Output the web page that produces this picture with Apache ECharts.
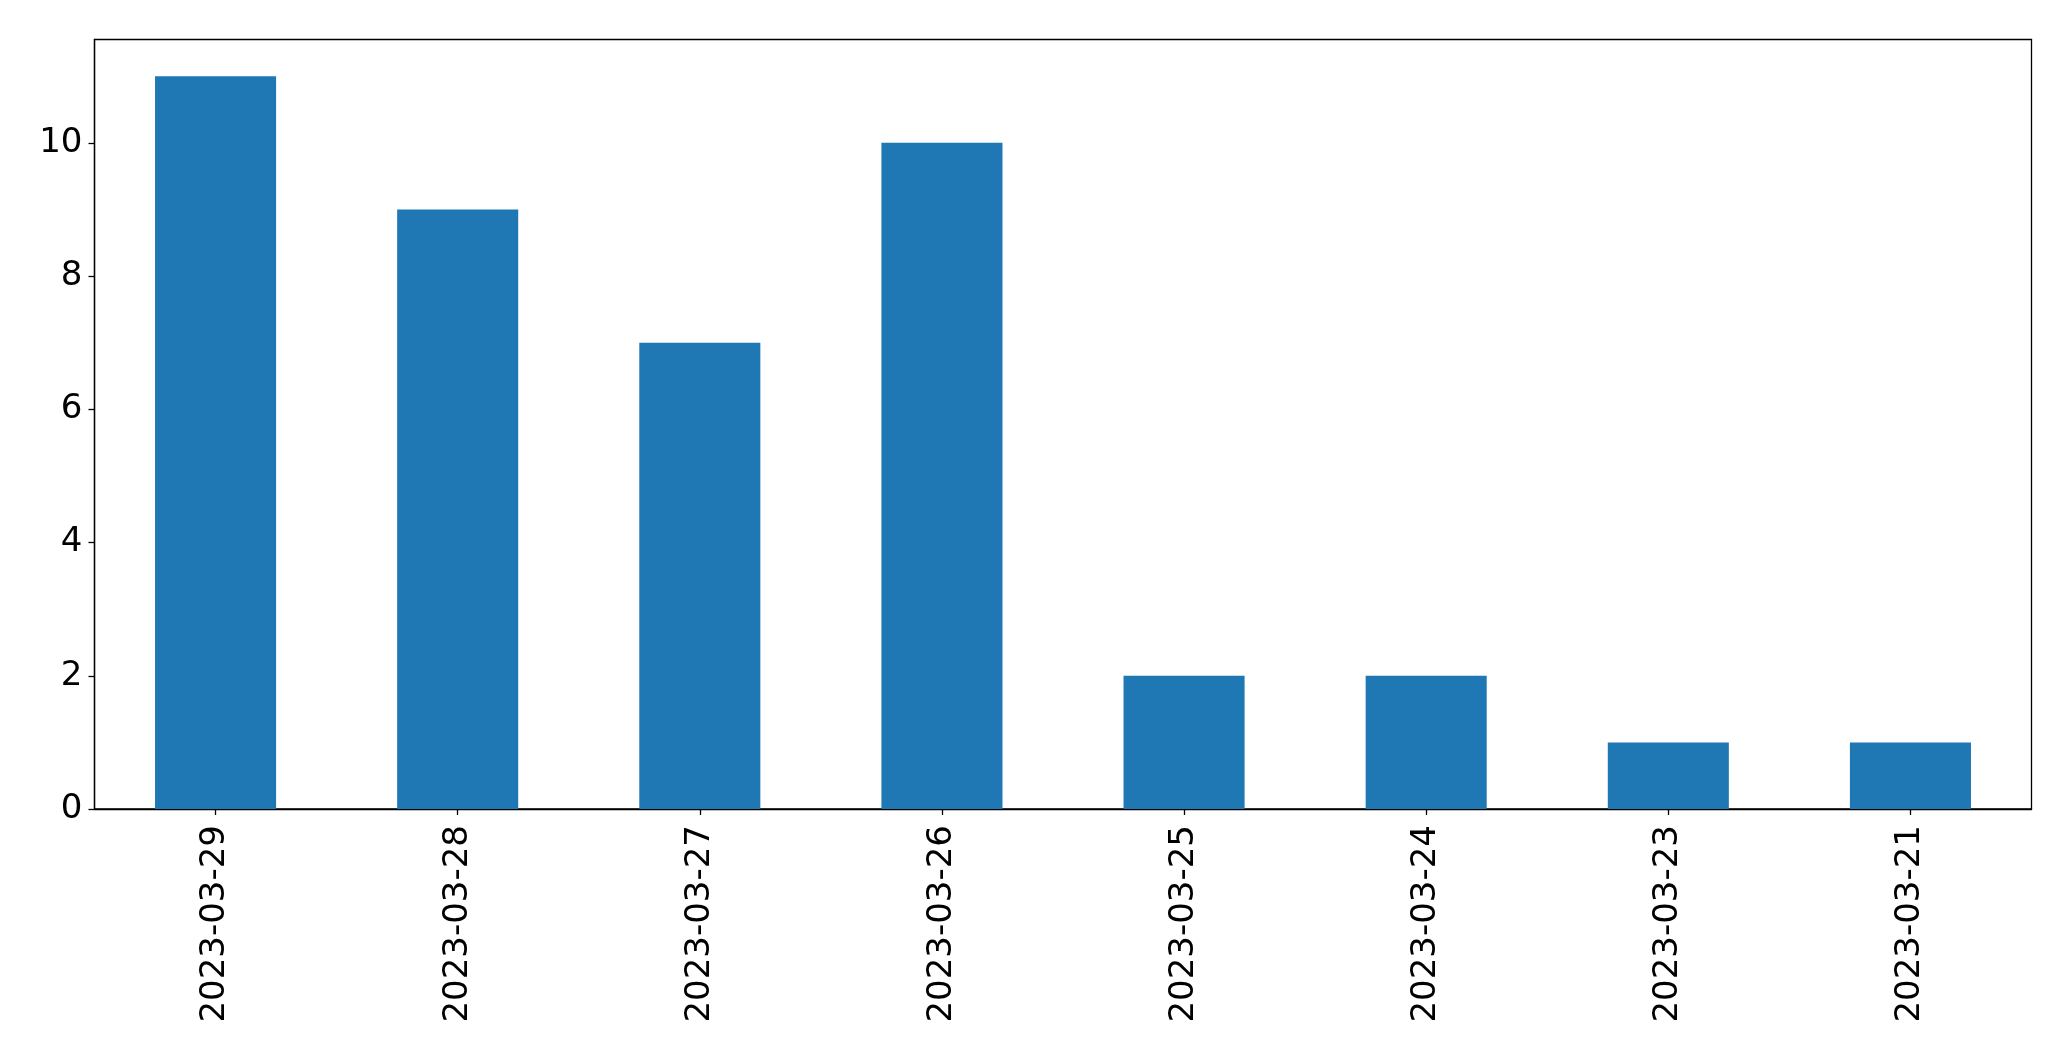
<!DOCTYPE html>
<html>
<head>
<meta charset="utf-8">
<script src="https://cdn.jsdelivr.net/npm/echarts@6/dist/echarts.min.js"></script>
<style>
html,body{margin:0;padding:0;background:#fff;}
#chart{width:2071px;height:1061px;}
</style>
</head>
<body>
<div id="chart"></div>
<script>
const categories = ["2023-03-29","2023-03-28","2023-03-27","2023-03-26","2023-03-25","2023-03-24","2023-03-23","2023-03-21"];
const values = [11, 9, 7, 10, 2, 2, 1, 1];
const yTicks = [0, 2, 4, 6, 8, 10];

const chart = echarts.init(document.getElementById('chart'), null, {renderer: 'canvas'});
const font = 'DejaVu Sans';
chart.setOption({
  animation: false,
  backgroundColor: '#fff',
  grid: {
    left: 94.5, right: 39.5, top: 39.5, bottom: 252,
    show: true, borderColor: '#000', borderWidth: 1.3, backgroundColor: 'transparent'
  },
  xAxis: {
    type: 'category',
    data: categories,
    boundaryGap: true,
    axisLine: {show: true, lineStyle: {color: '#000', width: 1.3}},
    axisTick: {show: true, alignWithLabel: true, length: 6, lineStyle: {color: '#000', width: 1.3}},
    axisLabel: {rotate: 90, margin: 16, color: '#000', fontSize: 34, fontFamily: font},
    splitLine: {show: false}
  },
  yAxis: {
    type: 'value',
    min: 0, max: 11.55, interval: 2,
    axisLine: {show: true, lineStyle: {color: '#000', width: 1.3}},
    axisTick: {show: true, length: 6, lineStyle: {color: '#000', width: 1.3}, customValues: yTicks},
    axisLabel: {margin: 12, color: '#000', fontSize: 34, fontFamily: font, customValues: yTicks},
    splitLine: {show: false}
  },
  series: [{
    type: 'bar',
    data: values,
    barWidth: '50%',
    itemStyle: {color: '#1f77b4'}
  }]
});
</script>
</body>
</html>
